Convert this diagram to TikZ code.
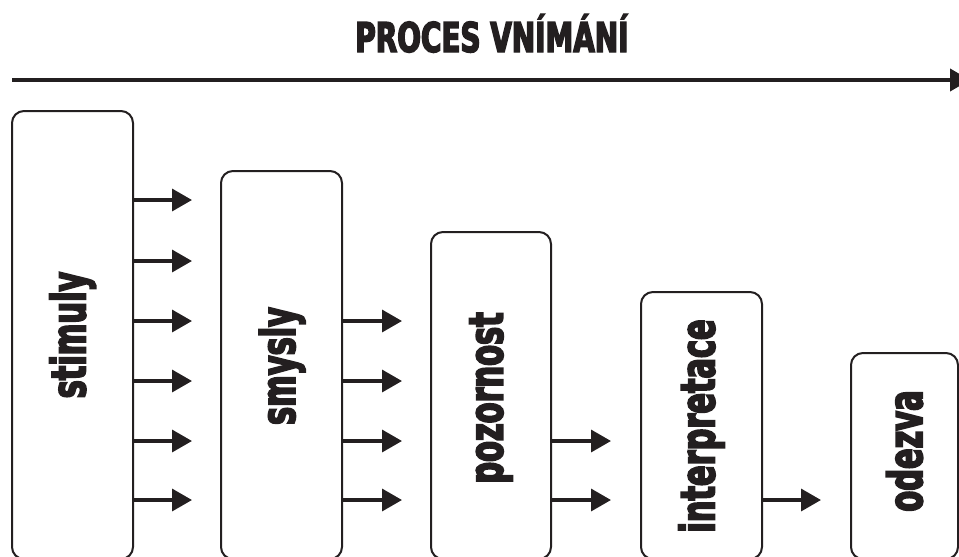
\documentclass[tikz,border=0pt]{standalone}
\usepackage{fontspec}
\usetikzlibrary{arrows.meta}
\newfontfamily\labelfont[FakeStretch=0.64,FakeBold=3.5]{DejaVu Sans Bold}
\newfontfamily\titlefont[FakeStretch=0.68,FakeBold=3.5]{DejaVu Sans Bold}
\definecolor{ink}{RGB}{35,31,32}
\begin{document}
\begin{tikzpicture}[x=1pt,y=-1pt,
  box/.style={draw=ink,line width=2pt,rounded corners=12pt,inner sep=0pt},
  lbl/.style={rotate=90,font=\labelfont\fontsize{47.5}{50}\selectfont,text=ink,inner sep=0pt},
  arr/.style={draw=ink,line width=3.5pt,-{Triangle[length=20pt,width=22pt]}}]
\useasboundingbox (0,0) rectangle (959,557);
% title and main arrow
\node[font=\titlefont\fontsize{41}{44}\selectfont,anchor=base,text=ink,inner sep=0pt] (title) at (492,52) {PROCES VNÍMÁNÍ};
\coordinate (ps) at (12,80);
\coordinate (pe) at (970,80);
\draw[arr,line width=4pt] (ps) -- (pe);
% boxes (bottom edges run just below the frame)
\node[box,minimum width=121pt,minimum height=448pt] (b1) at (72.5,335) {};
\node[box,minimum width=121pt,minimum height=388pt] (b2) at (281.5,365) {};
\node[box,minimum width=120pt,minimum height=327pt] (b3) at (491,395.5) {};
\node[box,minimum width=121pt,minimum height=267pt] (b4) at (701.5,425.5) {};
\node[box,minimum width=107pt,minimum height=206pt] (b5) at (904.5,456) {};
% labels
\node[lbl] (l1) at (72.5,335) {stimuly};
\node[lbl] (l2) at (282,366) {smysly};
\node[lbl] (l3) at (491,398) {pozornost};
\node[lbl] (l4) at (701.5,426) {interpretace};
\node[lbl] (l5) at (904.5,451) {odezva};
% arrows
\foreach \y [count=\k] in {200,261,321,381,441,500}{
  \coordinate (a1-\k) at (192,\y);
  \draw[arr] (b1.east |- a1-\k) -- (a1-\k);
}
\foreach \y [count=\k] in {321,381,441,500}{
  \coordinate (a2-\k) at (402,\y);
  \draw[arr] (b2.east |- a2-\k) -- (a2-\k);
}
\foreach \y [count=\k] in {441,500}{
  \coordinate (a3-\k) at (611,\y);
  \draw[arr] (b3.east |- a3-\k) -- (a3-\k);
}
\coordinate (a4-1) at (821,500);
\draw[arr] (b4.east |- a4-1) -- (a4-1);
\end{tikzpicture}
\end{document}
